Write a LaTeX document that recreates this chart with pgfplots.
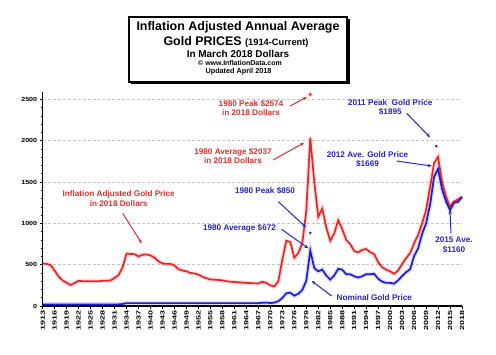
\documentclass[border=0pt]{standalone}
\usepackage{fontspec}
\setmainfont{Liberation Sans}
\usepackage{pgfplots}
\usepackage{pgfplotstable}
\pgfplotsset{compat=1.18}
\usetikzlibrary{arrows.meta}
\definecolor{rline}{RGB}{232,38,38}
\definecolor{bline}{RGB}{28,28,212}
\definecolor{rtext}{RGB}{222,48,48}
\definecolor{btext}{RGB}{38,38,196}

\pgfplotstableread{
year real nom
1913 515 20
1914 510 20
1915 495 20
1916 430 20
1917 355 20
1918 310 20
1919 280 20
1920 255 20
1921 280 20
1922 305 20
1923 300 20
1924 300 20
1925 300 20
1926 300 20
1927 300 20
1928 305 20
1929 305 20
1930 310 20
1931 340 20
1932 375 20
1933 470 24
1934 635 35
1935 630 35
1936 627 35
1937 600 35
1938 620 35
1939 625 35
1940 612 35
1941 585 35
1942 540 35
1943 515 35
1944 510 35
1945 510 35
1946 490 35
1947 445 35
1948 430 35
1949 420 35
1950 400 35
1951 395 35
1952 380 35
1953 355 35
1954 335 35
1955 322 35
1956 318 35
1957 315 35
1958 310 35
1959 300 35
1960 295 35
1961 290 35
1962 287 35
1963 283 35
1964 280 35
1965 277 35
1966 275 35
1967 272 35
1968 293 39
1969 280 41
1970 250 36
1971 236 41
1972 300 58
1973 560 97
1974 790 154
1975 775 161
1976 585 125
1977 640 148
1978 760 193
1979 1150 306
1980 2037 672
1981 1500 460
1982 1080 420
1983 1180 440
1984 950 370
1985 790 320
1986 880 370
1987 1037 450
1988 930 440
1989 800 385
1990 750 385
1991 665 360
1992 650 345
1993 680 360
1994 690 385
1995 650 385
1996 630 390
1997 530 330
1998 470 295
1999 440 280
2000 420 280
2001 390 270
2002 430 310
2003 510 363
2004 580 409
2005 640 445
2006 760 604
2007 860 697
2008 1000 872
2009 1160 1000
2010 1440 1225
2011 1730 1560
2012 1805 1660
2013 1500 1411
2014 1320 1266
2015 1200 1160
2016 1265 1251
2017 1290 1260
2018 1320 1320
}\gold

\begin{document}
\begin{tikzpicture}[x=1bp,y=1bp]
\path[use as bounding box, fill=white] (0,0) rectangle (496,354);
\begin{axis}[
  at={(42.7bp,48bp)}, anchor=south west,
  scale only axis, width=419.3bp, height=214bp,
  xmin=1913, xmax=2018, ymin=0, ymax=2590,
  axis x line=bottom, axis y line=left,
  axis line style={-, line width=1.5pt, black},
  tick align=outside,
  tick style={black, line width=0.6pt},
  major tick length=3pt, minor tick length=2pt,
  xtick={1913,1916,...,2018},
  minor x tick num=2,
  ytick={0,500,...,2500},
  minor y tick num=4,
  ymajorgrids,
  major grid style={densely dashed, gray!45, line width=0.5pt},
  /pgf/number format/assume math mode=true,
  /pgf/number format/1000 sep={},
  xticklabel={\scalebox{1.5}[1]{\pgfmathprintnumber{\tick}}},
  yticklabel={\scalebox{1.18}[1]{\pgfmathprintnumber{\tick}}},
  xticklabel style={rotate=90, anchor=east, font=\bfseries\fontsize{6}{7}\selectfont, inner sep=1.5pt},
  yticklabel style={font=\bfseries\fontsize{6}{7}\selectfont, inner sep=2.5pt},
  clip=false,
]
\addplot[no markers, line width=4.5pt, rline, opacity=0.15] table[x=year, y=real] {\gold};
\addplot[no markers, line width=4.5pt, bline, opacity=0.15] table[x=year, y=nom] {\gold};
\addplot[no markers, line width=1.7pt, rline] table[x=year, y=real] {\gold};
\addplot[no markers, line width=1.7pt, bline] table[x=year, y=nom] {\gold};
\addplot[only marks, mark=*, mark size=2.2pt, rline, opacity=0.2] coordinates {(1980,2560)};
\addplot[only marks, mark=*, mark size=1.1pt, rline] coordinates {(1980,2560)};
\addplot[only marks, mark=*, mark size=1.1pt, bline] coordinates {(1980,885) (2011.6,1935)};
\end{axis}

% title box
\fill[black] (131,270) rectangle (349.5,335);
\draw[line width=1.2pt, fill=white] (129,337) rectangle (347,272);
\node[font=\bfseries\fontsize{12.5}{13}\selectfont] at (238,327) {Inflation Adjusted Annual Average};
\node[font=\bfseries\fontsize{12.5}{13}\selectfont] at (236,312) {Gold PRICES {\fontsize{9.3}{10}\selectfont(1914-Current)}};
\node[font=\bfseries\fontsize{10}{11}\selectfont] at (238,300.5) {In March 2018 Dollars};
\node[font=\bfseries\fontsize{7}{8}\selectfont] at (240,291.3) {© www.InflationData.com};
\node[font=\bfseries\fontsize{7.3}{8}\selectfont] at (238.5,282.3) {Updated April 2018};

% annotations
\tikzset{ann/.style={font=\bfseries\fontsize{8.2}{9.2}\selectfont, align=center, inner sep=0pt},
         arr/.style={-{Stealth[length=4pt,width=3.5pt]}, line width=1pt}}
\node[ann, rtext] at (251,246) {1980 Peak \$2574\\in 2018 Dollars};
\draw[arr, rtext] (290,248) -- (307,257);
\node[ann, rtext] at (233,198) {1980 Average \$2037\\in 2018 Dollars};
\draw[arr, rtext] (273,194) -- (304,211.3);
\node[ann, rtext] at (118.7,155.5) {Inflation Adjusted Gold Price\\in 2018 Dollars};
\draw[arr, rtext] (122.7,140.7) -- (141.7,110.7);

\node[ann, btext] at (265,163.3) {1980 Peak \$850};
\draw[arr, btext] (278.3,152.3) -- (306,126.7);
\node[ann, btext] at (239.5,126) {1980 Average \$672};
\draw[arr, btext] (281.7,124.7) -- (308.3,105.7);
\node[ann, btext] at (374.3,56.7) {Nominal Gold Price};
\draw[arr, btext] (331.7,58) -- (311.7,73);
\node[ann, btext] at (390.3,246.5) {2011 Peak\ \ Gold Price\\\$1895};
\draw[arr, btext] (406.7,240.7) -- (430,216.7);
\node[ann, btext] at (367.5,195) {2012 Ave. Gold Price\\\$1669};
\draw[arr, btext] (396.7,193) -- (431.7,188);
\node[ann, btext] at (454,109) {2015 Ave.\\\$1160};
\draw[arr, btext] (451,120.7) -- (450,144);
\end{tikzpicture}
\end{document}
